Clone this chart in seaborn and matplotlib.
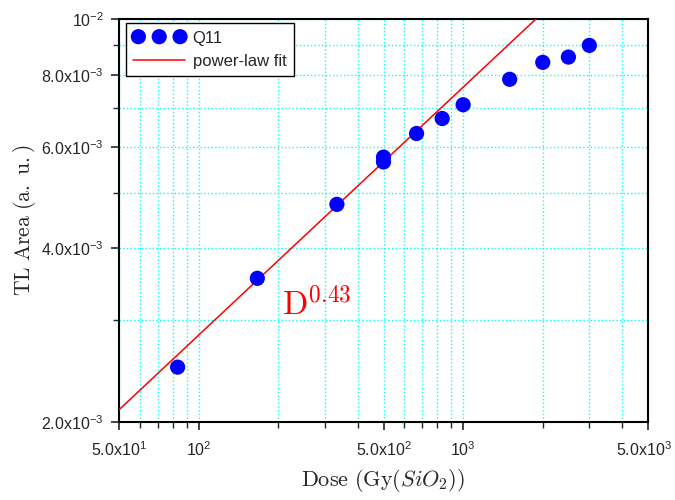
import pandas as pd
import seaborn as sns
import matplotlib
matplotlib.use("Agg")
import matplotlib.pyplot as plt
from matplotlib.ticker import NullFormatter
from matplotlib.transforms import ScaledTranslation

# measured points
dose = [83.3, 166.7, 333.3, 500, 500, 666.7, 833.3, 1000, 1500, 2000, 2500, 3000]
tl_area = [2.49e-3, 3.55e-3, 4.77e-3, 5.76e-3, 5.65e-3, 6.33e-3, 6.72e-3,
           7.10e-3, 7.86e-3, 8.41e-3, 8.59e-3, 9.00e-3]

# power-law fit (straight line on log-log, two ends)
fit_dose = [50, 2000]
fit_area = [2.10e-3, 1.026e-2]

xtick_vals = [50, 100, 500, 1000, 5000]
xtick_labels = ["5.0x$10^{1}$", "$10^{2}$", "5.0x$10^{2}$", "$10^{3}$", "5.0x$10^{3}$"]
xminor_vals = [60, 70, 80, 90, 200, 300, 400, 600, 700, 800, 900, 2000, 3000, 4000]
ytick_vals = [2e-3, 4e-3, 6e-3, 8e-3, 1e-2]
ytick_labels = ["2.0x$10^{-3}$", "4.0x$10^{-3}$", "6.0x$10^{-3}$", "8.0x$10^{-3}$", "$10^{-2}$"]
yminor_vals = [3e-3, 5e-3, 7e-3, 9e-3]

sns.set_style("white")
plt.rcParams['font.family'] = ['Liberation Sans', 'DejaVu Sans']
plt.rcParams['mathtext.fontset'] = 'custom'
plt.rcParams['mathtext.rm'] = 'Liberation Sans'
plt.rcParams['mathtext.it'] = 'Liberation Sans:italic'
plt.rcParams['mathtext.bf'] = 'Liberation Sans:bold'

df = pd.DataFrame({'dose': dose, 'area': tl_area})
df_fit = pd.DataFrame({'dose': fit_dose, 'area': fit_area})

fig = plt.figure(figsize=(6.75, 5), dpi=100)
ax = fig.add_axes([0.1763, 0.156, 0.7837, 0.806])

sns.lineplot(data=df_fit, x='dose', y='area', color='#ff0000', linewidth=1.1,
             label='power-law fit', ax=ax, zorder=3)
sns.scatterplot(data=df, x='dose', y='area', color='#0000ff', s=120,
                edgecolor='none', label='Q11', ax=ax, zorder=4)

ax.set_xscale('log')
ax.set_yscale('log')
ax.set_xlim(50, 5000)
ax.set_ylim(2e-3, 1e-2)

ax.set_xticks(xtick_vals, xtick_labels)
ax.set_xticks(xminor_vals, minor=True)
ax.set_yticks(ytick_vals, ytick_labels)
ax.set_yticks(yminor_vals, minor=True)
ax.xaxis.set_minor_formatter(NullFormatter())
ax.yaxis.set_minor_formatter(NullFormatter())

ax.tick_params(which='major', direction='out', length=6, width=1.2, labelsize=11.5,
               bottom=True, left=True, top=False, right=False)
ax.tick_params(axis='x', which='major', pad=7)
ax.tick_params(axis='y', which='major', pad=5)
ax.tick_params(which='minor', direction='out', length=4, width=1,
               bottom=True, left=True, top=False, right=False)

# last x label sits against the right edge, nudge it in a little
lab = ax.get_xticklabels()[-1]
lab.set_transform(lab.get_transform() + ScaledTranslation(-3 / 72, 0, fig.dpi_scale_trans))

ax.grid(which='both', color='#00ffff', linestyle=':', linewidth=1)
ax.set_axisbelow(True)
for s in ax.spines.values():
    s.set_color('black')
    s.set_linewidth(1.5)

ax.set_xlabel(r"$\mathrm{Dose\ (Gy(}SiO_{2}\mathrm{))}$", math_fontfamily='cm',
              fontsize=16, labelpad=6)
ax.set_ylabel(r"$\mathrm{TL\ Area\ (a.\ u.)}$", math_fontfamily='cm',
              fontsize=15.5, labelpad=2)

ax.text(206, 3.07e-3, r"$\mathrm{D}^{0.43}$", math_fontfamily='cm', color='#ff0000',
        fontsize=24, ha='left', va='baseline')

h, l = ax.get_legend_handles_labels()
order = [l.index('Q11'), l.index('power-law fit')]
leg = ax.legend([h[i] for i in order], [l[i] for i in order],
                loc='upper left', bbox_to_anchor=(0.013, 0.99), borderaxespad=0,
                scatterpoints=3, scatteryoffsets=[0.5], handlelength=3.1,
                handletextpad=0.45, labelspacing=0.5, borderpad=0.45, fontsize=12,
                fancybox=False, framealpha=1, edgecolor='black')
leg.get_frame().set_linewidth(1)

fig.savefig('out.png', dpi=100)
